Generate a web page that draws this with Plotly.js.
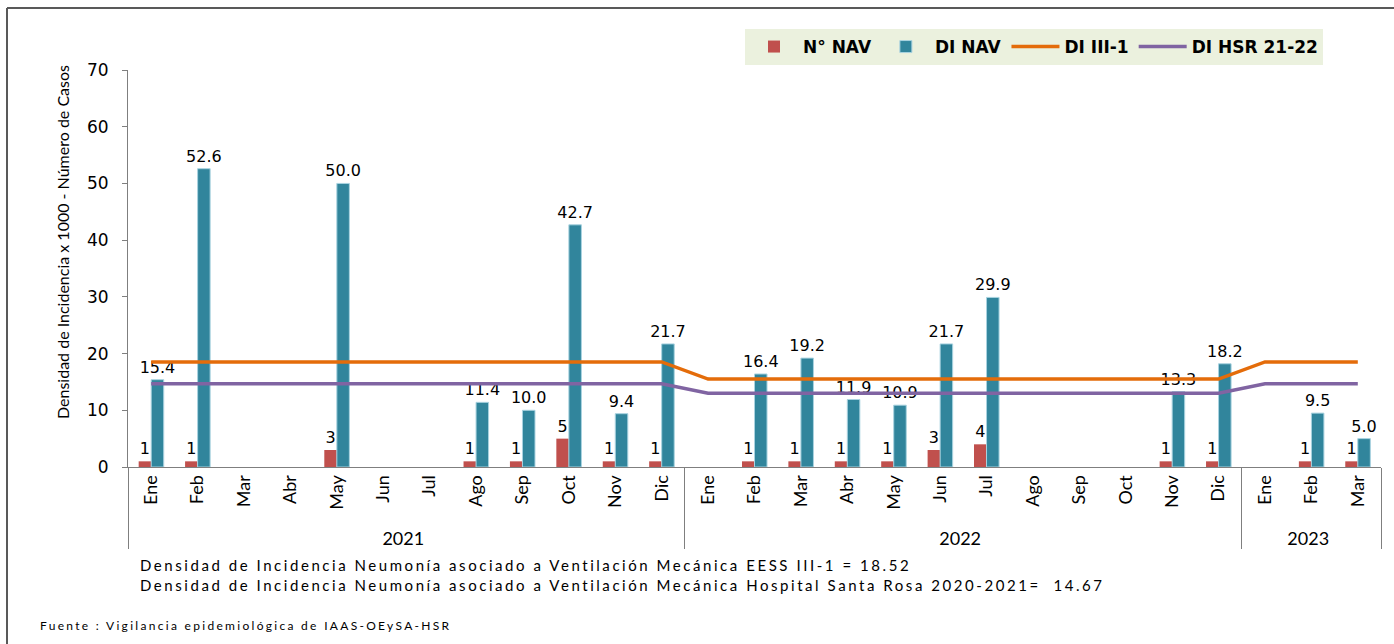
<!DOCTYPE html>
<html>
<head>
<meta charset="utf-8">
<script src="https://cdn.plot.ly/plotly-3.0.1.min.js"></script>
<style>html,body{margin:0;padding:0;background:#fff;}</style>
</head>
<body>
<div id="chart" style="width:1394px;height:644px;"></div>
<script>
const years = ['2021','2021','2021','2021','2021','2021','2021','2021','2021','2021','2021','2021',
               '2022','2022','2022','2022','2022','2022','2022','2022','2022','2022','2022','2022',
               '2023','2023','2023'];
const months = ['Ene','Feb','Mar','Abr','May','Jun','Jul','Ago','Sep','Oct','Nov','Dic',
                'Ene','Feb','Mar','Abr','May','Jun','Jul','Ago','Sep','Oct','Nov','Dic',
                'Ene','Feb','Mar'];
const nNav = [1,1,null,null,3,null,null,1,1,5,1,1,
              null,1,1,1,1,3,4,null,null,null,1,1,
              null,1,1];
const diNav = [15.4,52.6,null,null,50.0,null,null,11.4,10.0,42.7,9.4,21.7,
               null,16.4,19.2,11.9,10.9,21.7,29.9,null,null,null,13.3,18.2,
               null,9.5,5.0];
const diIII1 = [18.52,18.52,18.52,18.52,18.52,18.52,18.52,18.52,18.52,18.52,18.52,18.52,
                15.5,15.5,15.5,15.5,15.5,15.5,15.5,15.5,15.5,15.5,15.5,15.5,
                18.52,18.52,18.52];
const diHSR = [14.67,14.67,14.67,14.67,14.67,14.67,14.67,14.67,14.67,14.67,14.67,14.67,
               13.0,13.0,13.0,13.0,13.0,13.0,13.0,13.0,13.0,13.0,13.0,13.0,
               14.67,14.67,14.67];
const noteLines = [
  'Densidad de Incidencia Neumonía asociado a Ventilación Mecánica EESS III-1 = 18.52',
  'Densidad de Incidencia Neumonía asociado a Ventilación Mecánica Hospital Santa Rosa 2020-2021=  14.67'
];
const source = 'Fuente : Vigilancia epidemiológica de IAAS-OEySA-HSR';
const yTitle = 'Densidad de Incidencia x 1000 - Número de Casos';

const xcat = [years, months];
const W = 1394, H = 644, L = 128, R = 13, T = 70, B = 177;
const pw = W - L - R, ph = H - T - B;
const px = v => (v - L) / pw;
const py = v => (H - B - v) / ph;

const labelFont = {family: 'DejaVu Sans', size: 16, color: '#000'};
const spaced = (s, ls) => '<span style="letter-spacing:' + ls + 'px">' + s + '</span>';

const traces = [
  {type: 'bar', name: 'N° NAV', x: xcat, y: nNav,
   marker: {color: '#C0504D'},
   text: nNav.map(v => v == null ? '' : String(v)), textposition: 'outside',
   textfont: labelFont, constraintext: 'none', cliponaxis: false, hoverinfo: 'y'},
  {type: 'bar', name: 'DI NAV', x: xcat, y: diNav,
   marker: {color: '#31859C', line: {color: '#A9D3E0', width: 1}},
   text: diNav.map(v => v == null ? '' : v.toFixed(1)), textposition: 'outside',
   textfont: labelFont, constraintext: 'none', cliponaxis: false, hoverinfo: 'y'},
  {type: 'scatter', mode: 'lines', name: 'DI III-1', x: xcat, y: diIII1,
   line: {color: '#E46C0A', width: 3.5}},
  {type: 'scatter', mode: 'lines', name: 'DI HSR 21-22', x: xcat, y: diHSR,
   line: {color: '#8064A2', width: 3.5}}
];

const layout = {
  width: W, height: H,
  margin: {l: L, r: R, t: T, b: B},
  paper_bgcolor: '#fff', plot_bgcolor: '#fff',
  barmode: 'group', bargap: 0.46, bargroupgap: 0,
  showlegend: true,
  legend: {orientation: 'h', x: px(745), y: py(29), xanchor: 'left', yanchor: 'top',
           bgcolor: '#EBF1DE', font: {family: 'DejaVu Sans', size: 17, color: '#000', weight: 'bold'},
           traceorder: 'normal', itemwidth: 48},
  xaxis: {type: 'multicategory', showline: true, linecolor: '#7F7F7F', linewidth: 1,
          ticks: '', tickangle: -90, showgrid: false, zeroline: false,
          showdividers: true, dividercolor: '#7F7F7F', dividerwidth: 1,
          tickfont: {family: 'Lato', size: 18, color: '#000'}},
  yaxis: {range: [0, 70], dtick: 10, showline: true, linecolor: '#7F7F7F', linewidth: 1,
          ticks: 'outside', ticklen: 5, tickcolor: '#7F7F7F', showgrid: false, zeroline: false,
          ticklabelstandoff: 10,
          tickfont: {family: 'DejaVu Sans', size: 17, color: '#000'}},
  annotations: [
    {xref: 'paper', yref: 'paper', x: px(62), y: py(242), text: yTitle, textangle: -90,
     showarrow: false, xanchor: 'center', yanchor: 'middle',
     font: {family: 'Lato', size: 16, color: '#000'}},
    {xref: 'paper', yref: 'paper', x: px(138), y: py(575), align: 'left',
     text: spaced(noteLines[0], 2.55) + '<br>' + spaced(noteLines[1], 2.55),
     showarrow: false, xanchor: 'left', yanchor: 'middle',
     font: {family: 'Lato', size: 15, color: '#000'}},
    {xref: 'paper', yref: 'paper', x: px(38), y: py(625), align: 'left',
     text: spaced(source, 2.3),
     showarrow: false, xanchor: 'left', yanchor: 'middle',
     font: {family: 'Lato', size: 12, color: '#000'}}
  ],
  shapes: [
    {type: 'line', xref: 'paper', yref: 'paper', x0: px(7), x1: px(W + 20), y0: py(8), y1: py(8),
     line: {color: '#595959', width: 2}},
    {type: 'line', xref: 'paper', yref: 'paper', x0: px(7), x1: px(7), y0: py(8), y1: py(H + 20),
     line: {color: '#595959', width: 2}}
  ]
};

Plotly.newPlot('chart', traces, layout, {displayModeBar: false, staticPlot: true});
</script>
</body>
</html>
